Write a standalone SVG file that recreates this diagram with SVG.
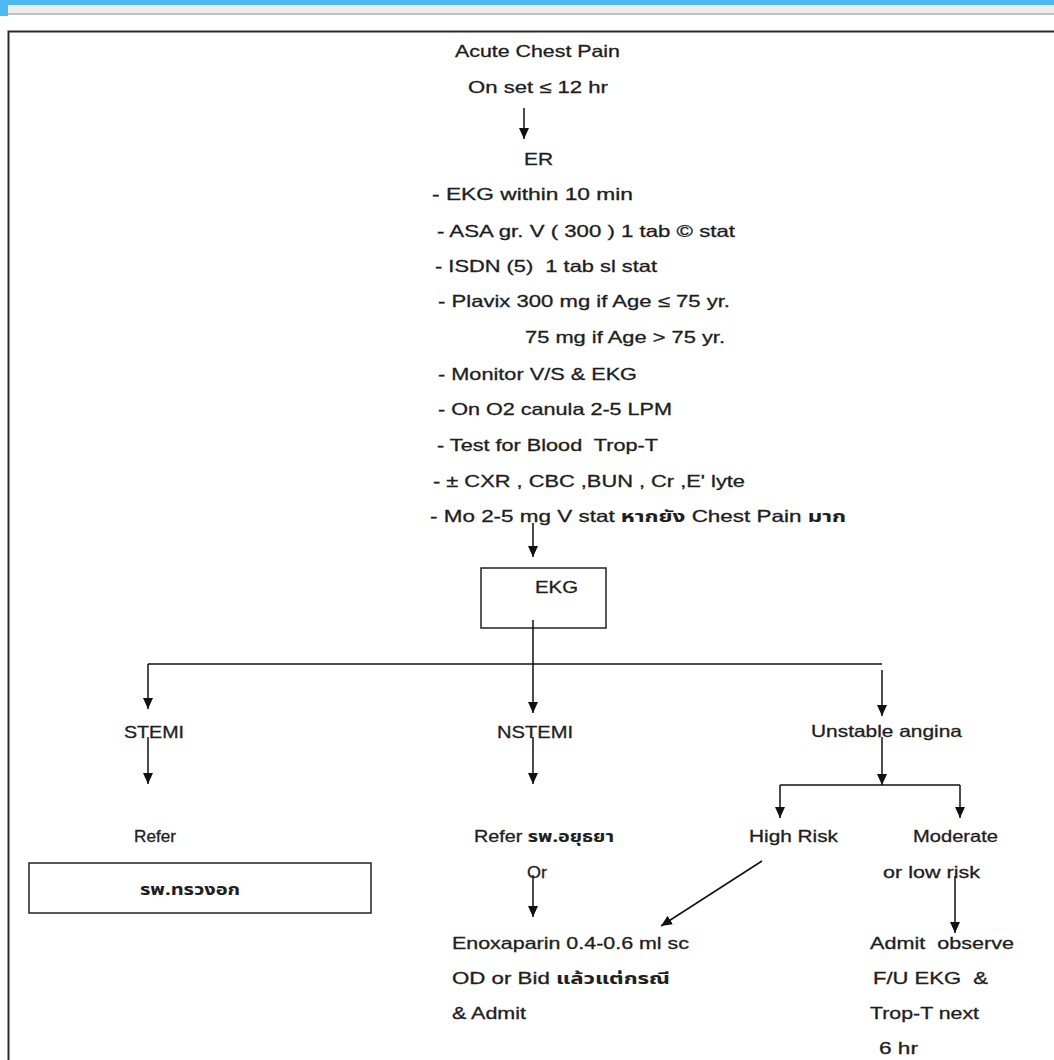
<svg xmlns="http://www.w3.org/2000/svg" width="1054" height="1060" viewBox="0 0 1054 1060">
<style>
text{font-family:"Liberation Sans",Arial,sans-serif;font-size:16.5px;fill:#1e1e1e;stroke:#1e1e1e;stroke-width:0.3;white-space:pre}
.th{font-weight:bold;font-family:"Noto Sans Thai","Tahoma","DejaVu Sans",sans-serif;stroke-width:0.1}
.ln{stroke:#111;stroke-width:1.5;fill:none}
.ar{stroke:#111;stroke-width:1.5;fill:none;marker-end:url(#ah)}
.box{stroke:#222;stroke-width:1.5;fill:#fff}
</style>
<defs>
<marker id="ah" markerUnits="userSpaceOnUse" markerWidth="12" markerHeight="11" refX="11" refY="5.5" orient="auto">
<path d="M0,0.5 L11,5.5 L0,10.5 z" fill="#111"/>
</marker>
</defs>
<rect width="1054" height="1060" fill="#fff"/>
<g id="chrome">
<rect x="0" y="5" width="1054" height="8" fill="#ececec"/>
<rect x="0" y="13" width="1054" height="2" fill="#c2c2c2"/>
<rect x="0" y="0" width="1054" height="5" fill="#4fb8f2"/>
<rect x="0" y="0" width="8" height="16" fill="#4fb8f2"/>
<path d="M8.5,1060 V31.5 H1054" stroke="#2a2a2a" stroke-width="2" fill="none"/>
</g>
<g id="connectors">
<line class="ar" x1="524" y1="108" x2="524" y2="139"/>
<line class="ar" x1="533" y1="523" x2="533" y2="557"/>
<line class="ln" x1="148" y1="664" x2="882" y2="664"/>
<line class="ar" x1="148" y1="664" x2="148" y2="709"/>
<line class="ar" x1="882" y1="670" x2="882" y2="716"/>
<line class="ar" x1="148" y1="737" x2="148" y2="784"/>
<line class="ar" x1="533" y1="737" x2="533" y2="784"/>
<line class="ar" x1="882" y1="737" x2="882" y2="785"/>
<line class="ln" x1="780" y1="785" x2="960" y2="785"/>
<line class="ar" x1="780" y1="785" x2="780" y2="818"/>
<line class="ar" x1="960" y1="785" x2="960" y2="818"/>
<line class="ar" x1="533" y1="875" x2="533" y2="917"/>
<line class="ar" x1="762" y1="861" x2="661" y2="926"/>
<line class="ar" x1="955" y1="876" x2="955" y2="933"/>
</g>
<g id="start">
<text x="455" y="57" textLength="165" lengthAdjust="spacingAndGlyphs">Acute Chest Pain</text>
<text x="468" y="93" textLength="140" lengthAdjust="spacingAndGlyphs">On set ≤ 12 hr</text>
</g>
<g id="er">
<text x="524" y="165" textLength="29" lengthAdjust="spacingAndGlyphs">ER</text>
<text x="432" y="200" textLength="201" lengthAdjust="spacingAndGlyphs">- EKG within 10 min</text>
<text x="437" y="237" textLength="298" lengthAdjust="spacingAndGlyphs">- ASA gr. V ( 300 ) 1 tab © stat</text>
<text x="435" y="272" textLength="222" lengthAdjust="spacingAndGlyphs">- ISDN (5)  1 tab sl stat</text>
<text x="438" y="307" textLength="292" lengthAdjust="spacingAndGlyphs">- Plavix 300 mg if Age ≤ 75 yr.</text>
<text x="525" y="343" textLength="200" lengthAdjust="spacingAndGlyphs">75 mg if Age &gt; 75 yr.</text>
<text x="438" y="380" textLength="199" lengthAdjust="spacingAndGlyphs">- Monitor V/S &amp; EKG</text>
<text x="438" y="415" textLength="234" lengthAdjust="spacingAndGlyphs">- On O2 canula 2-5 LPM</text>
<text x="437" y="451" textLength="221" lengthAdjust="spacingAndGlyphs">- Test for Blood  Trop-T</text>
<text x="433" y="487" textLength="312" lengthAdjust="spacingAndGlyphs">- ± CXR , CBC ,BUN , Cr ,E' lyte</text>
<text x="430" y="522" textLength="416" lengthAdjust="spacingAndGlyphs">- Mo 2-5 mg V stat <tspan class="th">หากยัง</tspan> Chest Pain <tspan class="th">มาก</tspan></text>
</g>
<g id="ekg">
<rect class="box" x="481" y="568" width="125" height="60"/>
<text x="535" y="593" textLength="43" lengthAdjust="spacingAndGlyphs">EKG</text>
<line class="ar" x1="533" y1="620" x2="533" y2="713"/>
</g>
<g id="stemi">
<text x="124" y="738" textLength="60" lengthAdjust="spacingAndGlyphs">STEMI</text>
</g>
<g id="nstemi">
<text x="497" y="738" textLength="76" lengthAdjust="spacingAndGlyphs">NSTEMI</text>
</g>
<g id="unstable">
<text x="811" y="737" textLength="151" lengthAdjust="spacingAndGlyphs">Unstable angina</text>
</g>
<g id="refer1">
<text x="134" y="842" textLength="42" lengthAdjust="spacingAndGlyphs">Refer</text>
</g>
<g id="hosp1">
<rect class="box" x="29" y="863" width="342" height="50"/>
<text x="140" y="895" textLength="100" lengthAdjust="spacingAndGlyphs" class="th">รพ.ทรวงอก</text>
</g>
<g id="refer2">
<text x="474" y="842" textLength="140" lengthAdjust="spacingAndGlyphs">Refer <tspan class="th">รพ.อยุธยา</tspan></text>
<text x="527" y="878" textLength="20" lengthAdjust="spacingAndGlyphs">Or</text>
</g>
<g id="highrisk">
<text x="749" y="842" textLength="89" lengthAdjust="spacingAndGlyphs">High Risk</text>
</g>
<g id="modrisk">
<text x="913" y="842" textLength="85" lengthAdjust="spacingAndGlyphs">Moderate</text>
<text x="883" y="878" textLength="97" lengthAdjust="spacingAndGlyphs">or low risk</text>
</g>
<g id="enox">
<text x="452" y="949" textLength="237" lengthAdjust="spacingAndGlyphs">Enoxaparin 0.4-0.6 ml sc</text>
<text x="452" y="984" textLength="218" lengthAdjust="spacingAndGlyphs">OD or Bid <tspan class="th">แล้วแต่กรณี</tspan></text>
<text x="452" y="1019" textLength="74" lengthAdjust="spacingAndGlyphs">&amp; Admit</text>
</g>
<g id="observe">
<text x="870" y="949" textLength="144" lengthAdjust="spacingAndGlyphs">Admit  observe</text>
<text x="873" y="984" textLength="115" lengthAdjust="spacingAndGlyphs">F/U EKG  &amp;</text>
<text x="870" y="1019" textLength="109" lengthAdjust="spacingAndGlyphs">Trop-T next</text>
<text x="879" y="1054" textLength="39" lengthAdjust="spacingAndGlyphs">6 hr</text>
</g>
</svg>
